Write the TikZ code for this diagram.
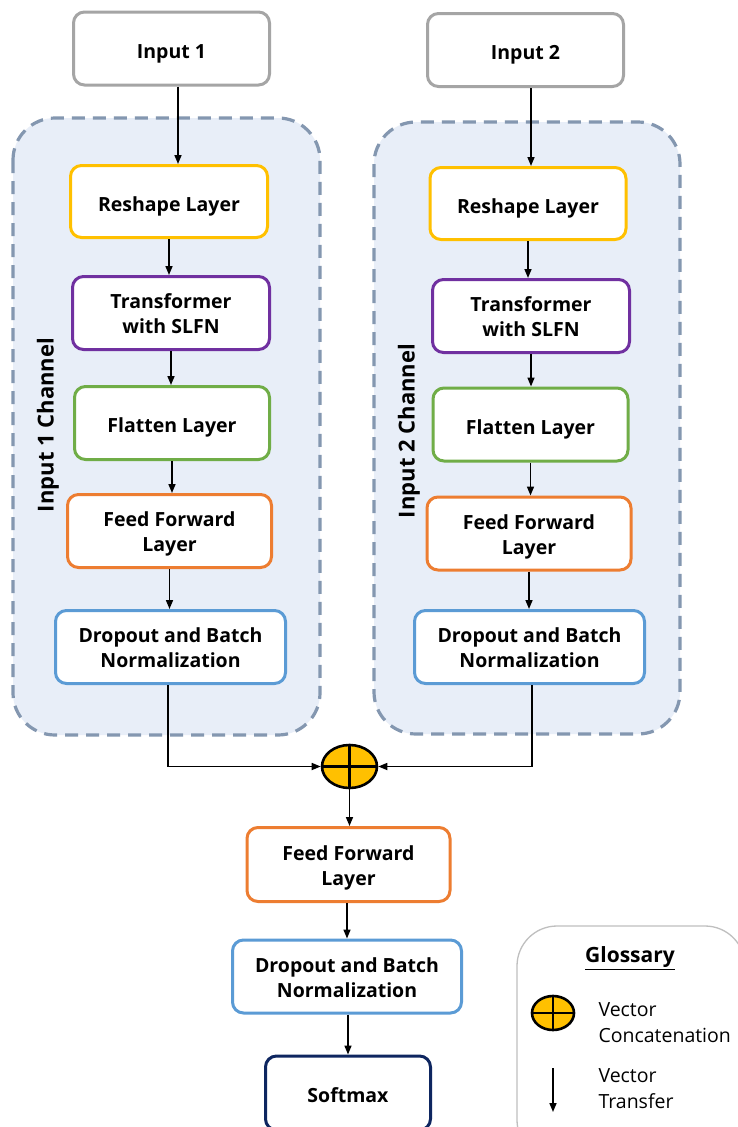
\documentclass[tikz,border=0pt]{standalone}
\usepackage{fontspec}
\setmainfont{Open Sans}
\usetikzlibrary{shapes.geometric,arrows.meta,calc}
\definecolor{cgray}{HTML}{A5A5A5}
\definecolor{cyellow}{HTML}{FFC000}
\definecolor{cpurple}{HTML}{7030A0}
\definecolor{cgreen}{HTML}{70AD47}
\definecolor{corange}{HTML}{ED7D31}
\definecolor{cblue}{HTML}{5B9BD5}
\definecolor{cnavy}{HTML}{0E2660}
\definecolor{chfill}{HTML}{E8EEF8}
\definecolor{chline}{HTML}{8497B0}
\definecolor{glline}{HTML}{BFBFBF}
\newcommand\twolines[2]{\begin{tabular}{@{}c@{}}#1\\#2\end{tabular}}
\tikzset{
  layerbox/.style={draw, line width=3pt, rounded corners=11pt, fill=white,
    inner sep=0pt, font=\bfseries\fontsize{19.5}{25}\selectfont},
  oneline/.style={text height=19pt, text depth=0pt},
  twoline/.style={text height=20pt, text depth=3.2pt},
  chanbox/.style={draw=chline, fill=chfill, line width=3.2pt, dash pattern=on 13pt off 8pt, rounded corners=42pt},
  chanlabel/.style={rotate=90, font=\bfseries\fontsize{22}{26}\selectfont},
  arr/.style={line width=1.6pt, -{Triangle[length=9pt,width=7pt]}},
  catnode/.style={ellipse, draw, line width=2.6pt, fill=cyellow, inner sep=0pt},
  glosstext/.style={anchor=west, align=left, font=\fontsize{19.5}{26}\selectfont}
}
\begin{document}
\begin{tikzpicture}[x=1pt, y=-1pt]
\useasboundingbox[fill=white] (0,0) rectangle (737,1127);
% channels
\draw[chanbox] (13,118) rectangle (320,735);
\draw[chanbox] (374,122) rectangle (680,734);
\node[chanlabel] (lab1) at (48,425) {Input 1 Channel};
\node[chanlabel] (lab2) at (409,431) {Input 2 Channel};
% inputs
\node[layerbox, oneline, draw=cgray, minimum width=196, minimum height=73] (in1) at (171.5,48.5) {Input 1};
\node[layerbox, oneline, draw=cgray, minimum width=196, minimum height=73] (in2) at (525.5,50) {Input 2};
% left column
\node[layerbox, oneline, draw=cyellow, minimum width=197, minimum height=72] (rs1) at (169,201.5) {Reshape Layer};
\node[layerbox, twoline, draw=cpurple, minimum width=197, minimum height=73] (tr1) at (171,313) {\twolines{Transformer}{with SLFN}};
\node[layerbox, oneline, draw=cgreen, minimum width=195, minimum height=73] (fl1) at (172,423) {Flatten Layer};
\node[layerbox, twoline, draw=corange, minimum width=204, minimum height=73] (ff1) at (169.5,531) {\twolines{Feed Forward}{Layer}};
\node[layerbox, twoline, draw=cblue, minimum width=230, minimum height=73] (do1) at (170.5,647) {\twolines{Dropout and Batch}{Normalization}};
% right column
\node[layerbox, oneline, draw=cyellow, minimum width=196, minimum height=72] (rs2) at (528,203.5) {Reshape Layer};
\node[layerbox, twoline, draw=cpurple, minimum width=197, minimum height=73] (tr2) at (531,316) {\twolines{Transformer}{with SLFN}};
\node[layerbox, oneline, draw=cgreen, minimum width=195, minimum height=73] (fl2) at (530.5,424.5) {Flatten Layer};
\node[layerbox, twoline, draw=corange, minimum width=204, minimum height=73] (ff2) at (529,533.5) {\twolines{Feed Forward}{Layer}};
\node[layerbox, twoline, draw=cblue, minimum width=230, minimum height=73] (do2) at (529.5,647) {\twolines{Dropout and Batch}{Normalization}};
% merge
\node[catnode, minimum width=55, minimum height=43] (cat) at (349.5,766.5) {};
\draw[line width=2.4pt] (cat.north) -- (cat.south) (cat.west) -- (cat.east);
% bottom column
\node[layerbox, twoline, draw=corange, minimum width=203, minimum height=74] (ff3) at (348.5,864.5) {\twolines{Feed Forward}{Layer}};
\node[layerbox, twoline, draw=cblue, minimum width=229, minimum height=73] (do3) at (347,976.5) {\twolines{Dropout and Batch}{Normalization}};
\node[layerbox, oneline, draw=cnavy, minimum width=165, minimum height=74] (sm) at (348,1093) {Softmax};
% connector columns
\coordinate (x1) at (178,0);
\coordinate (x2) at (531,0);
\coordinate (xl) at (168,0);
\coordinate (xr) at (532,0);
% arrows left
\draw[arr] (in1.south -| x1) -- (rs1.north -| x1);
\draw[arr] (rs1.south) -- (rs1.south |- tr1.north);
\draw[arr] (tr1.south) -- (tr1.south |- fl1.north);
\draw[arr] (fl1.south) -- (fl1.south |- ff1.north);
\draw[arr] (ff1.south) -- (ff1.south |- do1.north);
% arrows right
\draw[arr] (in2.south -| x2) -- (rs2.north -| x2);
\draw[arr] (rs2.south) -- (rs2.south |- tr2.north);
\draw[arr] (tr2.south) -- (tr2.south |- fl2.north);
\draw[arr] (fl2.south) -- (fl2.south |- ff2.north);
\draw[arr] (ff2.south) -- (ff2.south |- do2.north);
% merge arrows
\draw[arr] (do1.south -| xl) |- (cat.west);
\draw[arr] (do2.south -| xr) |- (cat.east);
\draw[arr] (cat.south) -- (cat.south |- ff3.north);
\draw[arr] (ff3.south -| do3.north) -- (do3.north);
\draw[arr] (do3.south -| sm.north) -- (sm.north);
% glossary
\draw[draw=glline, fill=white, line width=1.3pt, rounded corners=40pt] (517,926) rectangle (745,1160);
\node[font=\bfseries\fontsize{21}{24}\selectfont] (gtitle) at (630,958) {\underline{Glossary}};
\node[catnode, minimum width=42, minimum height=34] (gcat) at (553,1013) {};
\draw[line width=2.2pt] (gcat.north) -- (gcat.south) (gcat.west) -- (gcat.east);
\node[glosstext] (gt1) at (595,1023) {Vector\\Concatenation};
\coordinate (ga) at (553,1068);
\coordinate (gb) at (553,1112);
\draw[arr] (ga) -- (gb);
\node[glosstext] (gt2) at (595,1089) {Vector\\Transfer};
\end{tikzpicture}
\end{document}
